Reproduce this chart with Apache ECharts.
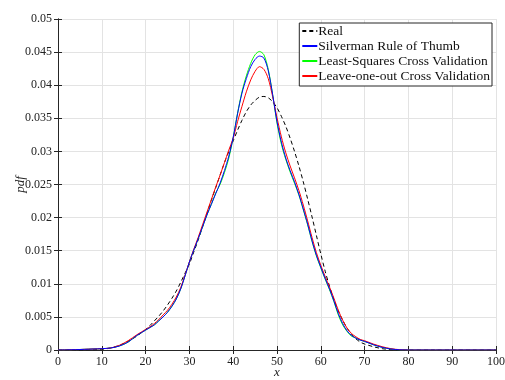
<!DOCTYPE html>
<html><head><meta charset="utf-8">
<script src="https://cdn.jsdelivr.net/npm/echarts@6/dist/echarts.min.js"></script>
<style>html,body{margin:0;padding:0;background:#fff}#c{width:505px;height:380px}</style>
</head><body><div id="c"></div>
<script>
var xs = [0,2,4,6,8,10,12,14,16,18,20,21,22,23,24,25,26,27,28,29,30,31,32,33,34,35,36,37,38,39,40,41,42,43,44,45,46,47,48,49,50,51,52,53,54,55,56,57,58,59,60,61,62,63,64,65,66,67,68,69,70,72,74,76,78,80,85,90,95,100];
var realY = [0,0,0,0.00002,0.00005,0.0001,0.0003,0.0007,0.0013,0.0021,0.0031,0.0037,0.0044,0.0051,0.0059,0.0068,0.0078,0.0089,0.0102,0.0116,0.013,0.0148,0.0166,0.0186,0.0206,0.0226,0.0245,0.0264,0.0283,0.03,0.0316,0.0332,0.0347,0.036,0.037,0.0377,0.0382,0.0383,0.0381,0.0375,0.0366,0.0353,0.0338,0.032,0.03,0.0278,0.0254,0.0228,0.0201,0.0173,0.0145,0.0119,0.0096,0.0076,0.0059,0.0045,0.0033,0.0024,0.0017,0.0012,0.0009,0.0005,0.0002,0.00005,0,0,0,0,0,0];
var silvermanY = [0,0.00002,0.00005,0.0001,0.00015,0.0002,0.0003,0.0006,0.0012,0.0022,0.003,0.0034,0.0038,0.0044,0.005,0.0057,0.0066,0.0077,0.0092,0.0112,0.0133,0.0151,0.0168,0.0186,0.0204,0.022,0.0236,0.0252,0.0271,0.0293,0.0321,0.0357,0.0388,0.041,0.0428,0.0439,0.0444,0.0441,0.0422,0.0386,0.0345,0.0314,0.029,0.0271,0.0254,0.0235,0.0213,0.019,0.0165,0.0143,0.0125,0.0108,0.0092,0.0074,0.0055,0.004,0.0029,0.0022,0.0018,0.0015,0.0013,0.0008,0.0004,0.00015,0.00003,0,0,0,0,0];
var lscvY = [0,0.00002,0.00005,0.0001,0.00015,0.0002,0.0003,0.0006,0.0012,0.0022,0.003,0.0034,0.0038,0.0044,0.005,0.0057,0.0066,0.0077,0.0092,0.0112,0.0133,0.0151,0.0168,0.0186,0.0204,0.022,0.0237,0.025,0.0268,0.029,0.0321,0.0358,0.039,0.0414,0.0433,0.0446,0.0451,0.0446,0.0424,0.0386,0.0343,0.0311,0.0288,0.0269,0.0252,0.0234,0.0212,0.0189,0.0164,0.0142,0.0124,0.0107,0.0091,0.0073,0.0053,0.0038,0.0028,0.0021,0.0018,0.0015,0.0013,0.0008,0.0004,0.00015,0.00003,0,0,0,0,0];
var loocvY = [0,0.00002,0.00005,0.0001,0.00015,0.0002,0.0003,0.0007,0.0014,0.0023,0.0031,0.0035,0.004,0.0046,0.0053,0.006,0.0069,0.008,0.0094,0.0113,0.0133,0.0152,0.017,0.0189,0.0208,0.0227,0.0246,0.0264,0.0283,0.0302,0.032,0.0345,0.0368,0.039,0.0408,0.0421,0.0428,0.0424,0.041,0.0383,0.0351,0.0322,0.0298,0.0278,0.026,0.0241,0.0219,0.0195,0.017,0.0147,0.0128,0.0111,0.0095,0.0078,0.006,0.0045,0.0033,0.0025,0.002,0.0016,0.0014,0.0009,0.0005,0.0002,0.00005,0,0,0,0,0];
var names = ['Real','Silverman Rule of Thumb','Least-Squares Cross Validation','Leave-one-out Cross Validation'];

function pairs(ys){ return xs.map(function(x,i){ return [x, ys[i]]; }); }
var font = 'Liberation Serif';
var axisCol = '#262626';
var chart = echarts.init(document.getElementById('c'), null, {renderer:'canvas'});
chart.setOption({
  animation: false,
  backgroundColor: '#fff',
  grid: {left: 58, right: 9, top: 19, bottom: 30, containLabel: false, outerBoundsMode: 'none'},
  legend: {
    orient: 'vertical', right: 13, top: 23,
    itemWidth: 15, itemHeight: 8, itemGap: 1,
    padding: [1, 2, 3, 2],
    backgroundColor: '#fff', borderColor: axisCol, borderWidth: 1, borderRadius: 0,
    itemStyle: {opacity: 0},
    textStyle: {fontFamily: font, fontSize: 13.5, lineHeight: 14, color: '#111', padding: [0,0,0,-4]},
    data: names
  },
  xAxis: [{
    type: 'value', min: 0, max: 100, interval: 10,
    name: 'x', nameLocation: 'middle', nameGap: 16, nameMoveOverlap: false,
    nameTextStyle: {fontFamily: font, fontStyle: 'italic', fontSize: 13, color: '#222'},
    axisLine: {show: true, lineStyle: {color: axisCol, width: 1}},
    axisTick: {show: true, inside: true, length: 4, lineStyle: {color: axisCol}},
    axisLabel: {fontFamily: font, fontSize: 12, color: '#222', margin: 6},
    splitLine: {show: true, lineStyle: {color: '#e3e3e3', width: 1}}
  },{
    type: 'value', min: 0, max: 100, interval: 10, position: 'top',
    axisLine: {show: true, lineStyle: {color: axisCol, width: 1}},
    axisTick: {show: true, inside: true, length: 4, lineStyle: {color: axisCol}},
    axisLabel: {show: false}, splitLine: {show: false}
  }],
  yAxis: [{
    type: 'value', min: 0, max: 0.05, interval: 0.005,
    name: 'pdf', nameLocation: 'middle', nameGap: 31, nameRotate: 90, nameMoveOverlap: false,
    nameTextStyle: {fontFamily: font, fontStyle: 'italic', fontSize: 13, color: '#222'},
    axisLine: {show: true, lineStyle: {color: axisCol, width: 1}},
    axisTick: {show: true, inside: true, length: 4, lineStyle: {color: axisCol}},
    axisLabel: {fontFamily: font, fontSize: 12, color: '#222', margin: 6},
    splitLine: {show: true, lineStyle: {color: '#e3e3e3', width: 1}}
  },{
    type: 'value', min: 0, max: 0.05, interval: 0.005, position: 'right',
    axisLine: {show: true, lineStyle: {color: axisCol, width: 1}},
    axisTick: {show: true, inside: true, length: 4, lineStyle: {color: axisCol}},
    axisLabel: {show: false}, splitLine: {show: false}
  }],
  series: [
    {name: names[0], type: 'line', data: pairs(realY), symbol: 'none', smooth: 0.3, z: 2,
     lineStyle: {color: '#000', width: 1, type: [4, 3]}, itemStyle: {color: '#000'}},
    {name: names[2], type: 'line', data: pairs(lscvY), symbol: 'none', smooth: 0.3, z: 3,
     lineStyle: {color: '#00ff00', width: 1}, itemStyle: {color: '#00ff00'}},
    {name: names[3], type: 'line', data: pairs(loocvY), symbol: 'none', smooth: 0.3, z: 4,
     lineStyle: {color: '#ff0000', width: 1}, itemStyle: {color: '#ff0000'}},
    {name: names[1], type: 'line', data: pairs(silvermanY), symbol: 'none', smooth: 0.3, z: 5,
     lineStyle: {color: '#0000ff', width: 1}, itemStyle: {color: '#0000ff'}}
  ]
});
</script></body></html>
